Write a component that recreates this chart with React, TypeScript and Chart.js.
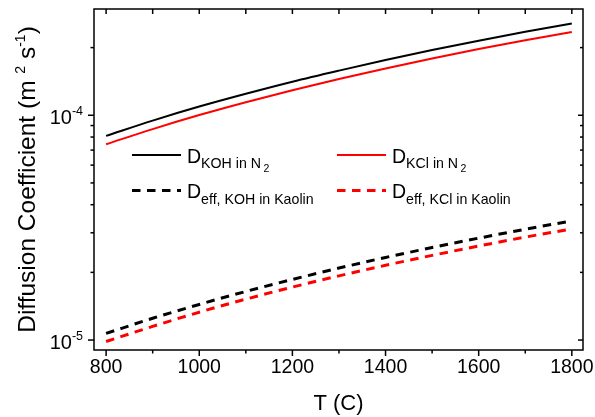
import React, { useEffect, useRef } from "react";
import { Chart, registerables } from "chart.js";

Chart.register(...registerables);

const temperatures = [800, 900, 1000, 1100, 1200, 1300, 1400, 1500, 1600, 1700, 1800];
const dKOHinN2 = [8.1e-5, 9.47e-5, 1.093e-4, 1.246e-4, 1.41e-4, 1.58e-4, 1.762e-4, 1.951e-4, 2.147e-4, 2.352e-4, 2.56e-4];
const dKClinN2 = [7.43e-5, 8.68e-5, 1.002e-4, 1.143e-4, 1.293e-4, 1.45e-4, 1.616e-4, 1.79e-4, 1.97e-4, 2.158e-4, 2.345e-4];
const dEffKOHinKaolin = [1.07e-5, 1.25e-5, 1.44e-5, 1.645e-5, 1.86e-5, 2.09e-5, 2.33e-5, 2.58e-5, 2.84e-5, 3.11e-5, 3.39e-5];
const dEffKClinKaolin = [0.985e-5, 1.15e-5, 1.33e-5, 1.52e-5, 1.72e-5, 1.93e-5, 2.15e-5, 2.38e-5, 2.62e-5, 2.87e-5, 3.12e-5];

const xMajorTicks = [800, 1000, 1200, 1400, 1600, 1800];
const xMinorTicks = [900, 1100, 1300, 1500, 1700];
const yMajorTicks = [1e-5, 1e-4];
const yTickExponents = ["-5", "-4"];
const yDecades = [1e-6, 1e-5, 1e-4];

const FONT = '"Liberation Sans", Arial, Helvetica, sans-serif';

type Part = { t: string; size: number; dy: number; dx?: number };

function richWidth(ctx: CanvasRenderingContext2D, parts: Part[]) {
  let w = 0;
  for (const p of parts) {
    ctx.font = `${p.size}px ${FONT}`;
    w += ctx.measureText(p.t).width + (p.dx || 0);
  }
  return w;
}

function drawRich(ctx: CanvasRenderingContext2D, x: number, y: number, parts: Part[]) {
  let cx = x;
  ctx.textAlign = "left";
  ctx.textBaseline = "alphabetic";
  for (const p of parts) {
    ctx.font = `${p.size}px ${FONT}`;
    cx += p.dx || 0;
    ctx.fillText(p.t, cx, y + p.dy);
    cx += ctx.measureText(p.t).width;
  }
}

const decorPlugin = {
  id: "decor",
  afterDraw(chart: any) {
    const ctx: CanvasRenderingContext2D = chart.ctx;
    const { left, right, top, bottom } = chart.chartArea;
    const xs = chart.scales.x;
    const ys = chart.scales.y;
    ctx.save();
    ctx.fillStyle = "#000";
    ctx.strokeStyle = "#000";
    ctx.lineWidth = 1.5;
    ctx.setLineDash([]);
    ctx.strokeRect(left, top, right - left, bottom - top);

    const line = (x1: number, y1: number, x2: number, y2: number) => {
      ctx.beginPath();
      ctx.moveTo(x1, y1);
      ctx.lineTo(x2, y2);
      ctx.stroke();
    };

    // x ticks
    for (const v of xMajorTicks) {
      const px = xs.getPixelForValue(v);
      line(px, bottom, px, bottom + 6);
      line(px, top, px, top + 5);
    }
    for (const v of xMinorTicks) {
      const px = xs.getPixelForValue(v);
      line(px, bottom, px, bottom + 3.5);
      line(px, top, px, top + 5);
    }
    // y ticks
    for (const d of yDecades) {
      for (let m = 1; m <= 9; m++) {
        const v = d * m;
        if (v < ys.min || v > ys.max) continue;
        const py = ys.getPixelForValue(v);
        const len = m === 1 ? 6 : 3.5;
        line(left - len, py, left, py);
        line(right, py, right - (m === 1 ? 5 : 3), py);
      }
    }

    // x tick labels
    ctx.font = `19.5px ${FONT}`;
    ctx.textAlign = "center";
    ctx.textBaseline = "alphabetic";
    for (const v of xMajorTicks) {
      ctx.fillText(String(v), xs.getPixelForValue(v), 373);
    }

    // y tick labels
    yMajorTicks.forEach((v, i) => {
      const py = ys.getPixelForValue(v);
      const parts: Part[] = [
        { t: "10", size: 20, dy: 9 },
        { t: yTickExponents[i], size: 12.5, dy: 0 },
      ];
      const w = richWidth(ctx, parts);
      drawRich(ctx, 83 - w, py, parts);
    });

    // x title
    ctx.font = `22px ${FONT}`;
    ctx.textAlign = "center";
    ctx.fillText("T (C)", (left + right) / 2, 410);

    // y title
    const yTitle: Part[] = [
      { t: "Diffusion Coefficient (m ", size: 24.5, dy: 0 },
      { t: "2", size: 14, dy: -10 },
      { t: " s", size: 24.5, dy: 0 },
      { t: "-1", size: 14, dy: -10 },
      { t: ")", size: 24.5, dy: 0 },
    ];
    ctx.save();
    ctx.translate(35, (top + bottom) / 2);
    ctx.rotate(-Math.PI / 2);
    const tw = richWidth(ctx, yTitle);
    drawRich(ctx, -tw / 2, 0, yTitle);
    ctx.restore();

    // legend
    const legendItems = [
      { x: 132, y: 155, color: "#000", dash: false, sub: "KOH in N", sub2: "2" },
      { x: 337, y: 155, color: "#ff0000", dash: false, sub: "KCl in N", sub2: "2" },
      { x: 132, y: 190.5, color: "#000", dash: true, sub: "eff, KOH in Kaolin", sub2: "" },
      { x: 337, y: 190.5, color: "#ff0000", dash: true, sub: "eff, KCl in Kaolin", sub2: "" },
    ];
    for (const it of legendItems) {
      ctx.strokeStyle = it.color;
      ctx.lineWidth = it.dash ? 3 : 2;
      ctx.setLineDash(it.dash ? [8.5, 6.5] : []);
      line(it.x, it.y, it.x + 49, it.y);
      ctx.setLineDash([]);
      ctx.fillStyle = "#000";
      const parts: Part[] = [
        { t: "D", size: 19.5, dy: 0 },
        { t: it.sub, size: 14.2, dy: 5.5 },
      ];
      if (it.sub2) parts.push({ t: it.sub2, size: 10.5, dy: 9, dx: 2.5 });
      drawRich(ctx, it.x + 55, it.y + 7.8, parts);
    }
    ctx.restore();
  },
};

function toPoints(values: number[]) {
  return temperatures.map((t, i) => ({ x: t, y: values[i] }));
}

export default function App() {
  const canvasRef = useRef<HTMLCanvasElement | null>(null);

  useEffect(() => {
    document.body.style.margin = "0";
    const canvas = canvasRef.current;
    if (!canvas) return;
    const common = { pointRadius: 0, fill: false, cubicInterpolationMode: "monotone" as const };
    const chart = new Chart(canvas, {
      type: "line",
      data: {
        datasets: [
          { label: "D KOH in N2", data: toPoints(dKOHinN2), borderColor: "#000000", borderWidth: 2, ...common },
          { label: "D KCl in N2", data: toPoints(dKClinN2), borderColor: "#ff0000", borderWidth: 2, ...common },
          { label: "Deff KOH in Kaolin", data: toPoints(dEffKOHinKaolin), borderColor: "#000000", borderWidth: 3, borderDash: [8.5, 6.5], ...common },
          { label: "Deff KCl in Kaolin", data: toPoints(dEffKClinKaolin), borderColor: "#ff0000", borderWidth: 3, borderDash: [8.5, 6.5], ...common },
        ],
      },
      options: {
        responsive: false,
        animation: false,
        devicePixelRatio: 1,
        layout: { padding: { left: 94, top: 9, right: 12, bottom: 67 } },
        plugins: { legend: { display: false }, tooltip: { enabled: false } },
        scales: {
          x: { type: "linear", min: 774, max: 1824, display: false },
          y: { type: "logarithmic", min: 9.03e-6, max: 2.97e-4, display: false },
        },
      },
      plugins: [decorPlugin],
    });
    return () => chart.destroy();
  }, []);

  return (
    <div style={{ width: 595, height: 417, background: "#fff" }}>
      <canvas ref={canvasRef} width={595} height={417} style={{ display: "block" }} />
    </div>
  );
}
